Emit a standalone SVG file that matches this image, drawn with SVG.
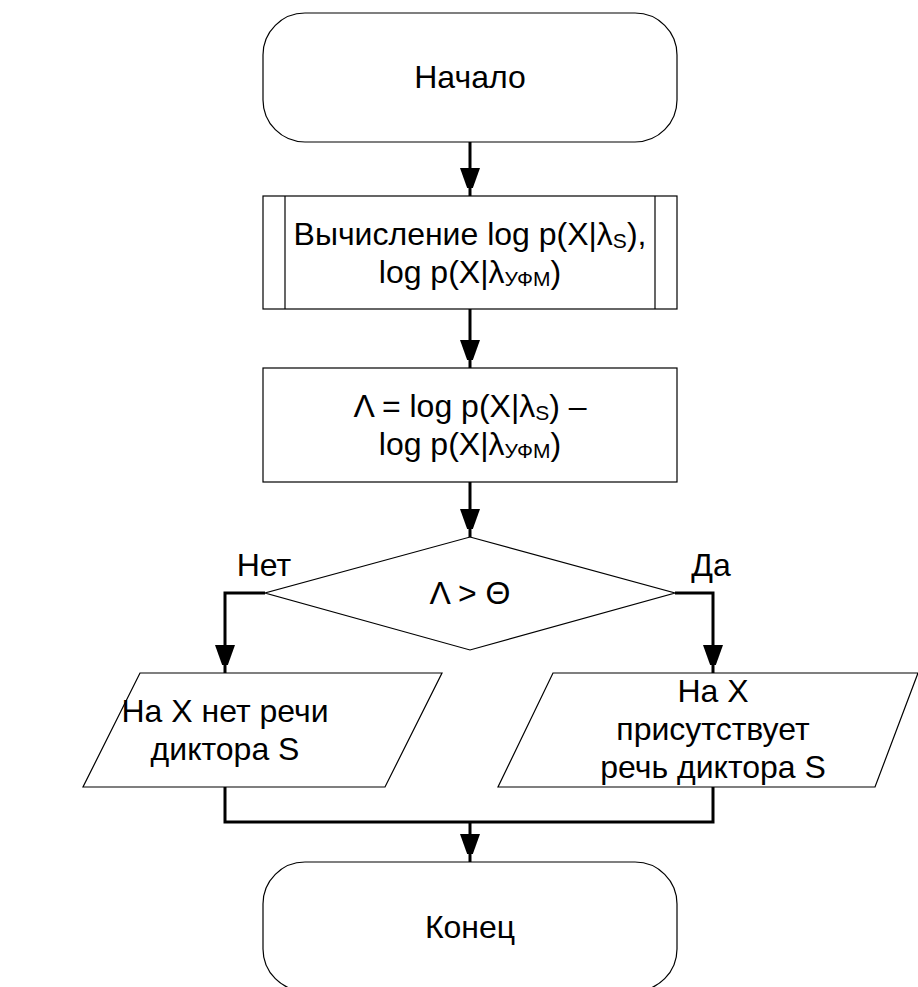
<svg xmlns="http://www.w3.org/2000/svg" width="918" height="987" viewBox="0 0 918 987">
  <style>
    .shape { fill: #ffffff; stroke: #000000; stroke-width: 1.2; }
    .edge { fill: none; stroke: #000000; stroke-width: 3; }
    text { font-family: "Liberation Sans", Arial, sans-serif; font-size: 32px; fill: #000000; text-anchor: middle; }
    .sub { font-size: 21px; }
  </style>
  <defs>
    <marker id="arrow" viewBox="0 0 20 28" refX="28" refY="10" markerWidth="20" markerHeight="28" markerUnits="userSpaceOnUse" orient="auto">
      <path d="M0,0 L28,10 L0,20 Z" fill="#000000"/>
    </marker>
  </defs>

  <rect x="0" y="0" width="918" height="987" fill="#ffffff"/>

  <g id="connectors">
    <line class="edge" x1="470" y1="142" x2="470" y2="196" marker-end="url(#arrow)"/>
    <line class="edge" x1="470" y1="309" x2="470" y2="368" marker-end="url(#arrow)"/>
    <line class="edge" x1="470" y1="482" x2="470" y2="537" marker-end="url(#arrow)"/>
    <polyline class="edge" points="265,593 225,593 225,673" marker-end="url(#arrow)"/>
    <polyline class="edge" points="675,593 713,593 713,673" marker-end="url(#arrow)"/>
    <polyline class="edge" points="225,787 225,822 713,822 713,787"/>
    <line class="edge" x1="470" y1="822" x2="470" y2="862" marker-end="url(#arrow)"/>
  </g>

  <g id="start">
    <rect class="shape" x="263" y="13" width="414" height="129" rx="42" ry="42"/>
    <text x="470" y="88">Начало</text>
  </g>

  <g id="compute">
    <rect class="shape" x="263" y="196" width="414" height="113"/>
    <line class="shape" x1="285" y1="196" x2="285" y2="309"/>
    <line class="shape" x1="655" y1="196" x2="655" y2="309"/>
    <text x="470" y="245">Вычисление log p(X|λ<tspan class="sub" dy="3">S</tspan><tspan dy="-3">),</tspan></text>
    <text x="470" y="283">log p(X|λ<tspan class="sub" dy="3">УФМ</tspan><tspan dy="-3">)</tspan></text>
  </g>

  <g id="ratio">
    <rect class="shape" x="263" y="368" width="414" height="114"/>
    <text x="470" y="417">Λ = log p(X|λ<tspan class="sub" dy="3">S</tspan><tspan dy="-3">) –</tspan></text>
    <text x="470" y="455">log p(X|λ<tspan class="sub" dy="3">УФМ</tspan><tspan dy="-3">)</tspan></text>
  </g>

  <g id="decision">
    <polygon class="shape" points="470,537 675,593 470,650 265,593"/>
    <text x="470" y="604">Λ &gt; Θ</text>
    <text x="264" y="576">Нет</text>
    <text x="711" y="576">Да</text>
  </g>

  <g id="no-speech">
    <polygon class="shape" points="140,673 442,673 385,787 83,787"/>
    <text x="225" y="722">На X нет речи</text>
    <text x="225" y="760">диктора S</text>
  </g>

  <g id="speech">
    <polygon class="shape" points="553,673 918,673 875,787 498,787"/>
    <text x="713" y="702">На X</text>
    <text x="713" y="740">присутствует</text>
    <text x="713" y="778">речь диктора S</text>
  </g>

  <g id="end">
    <rect class="shape" x="263" y="862" width="414" height="129" rx="42" ry="42"/>
    <text x="470" y="938">Конец</text>
  </g>
</svg>
